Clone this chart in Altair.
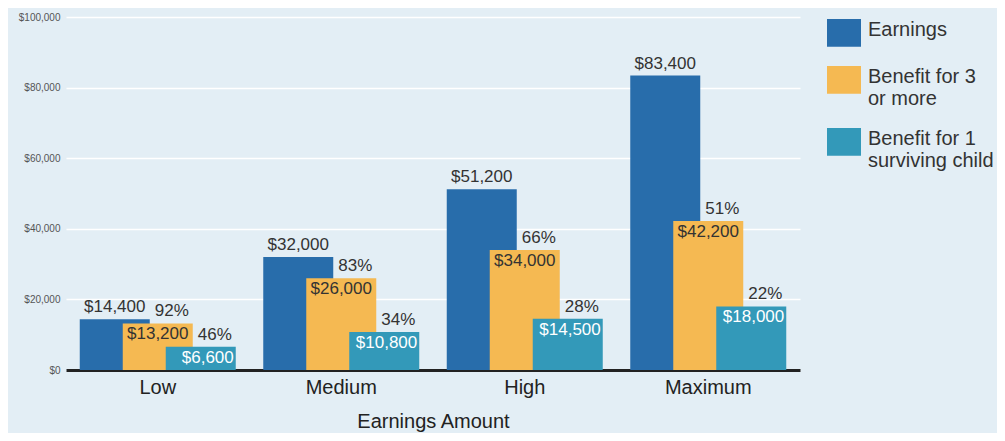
import altair as alt
import pandas as pd

categories = ["Low", "Medium", "High", "Maximum"]
earnings = [14400, 32000, 51200, 83400]
benefit3 = [13200, 26000, 34000, 42200]
benefit1 = [6600, 10800, 14500, 18000]
pct3 = ["92%", "83%", "66%", "51%"]
pct1 = ["46%", "34%", "28%", "22%"]
series = ["Earnings", "Benefit for 3|or more", "Benefit for 1|surviving child"]
colors = ["#286dab", "#f5b952", "#3399b9"]

rows = []
for i, c in enumerate(categories):
    rows.append({"cat": c, "series": series[0], "value": earnings[i], "pct": ""})
    rows.append({"cat": c, "series": series[1], "value": benefit3[i], "pct": pct3[i]})
    rows.append({"cat": c, "series": series[2], "value": benefit1[i], "pct": pct1[i]})
df = pd.DataFrame(rows)

FONT = "Liberation Sans"
offsets = [-43, 0, 43]

x_enc = alt.X(
    "cat:N",
    sort=categories,
    scale=alt.Scale(paddingInner=0.15, paddingOuter=0.075),
    axis=alt.Axis(
        title="Earnings Amount",
        labelAngle=0,
        labelFontSize=20,
        labelColor="#222",
        labelPadding=7,
        labelFont=FONT,
        ticks=False,
        domainColor="#222",
        domainWidth=3,
        titleFontSize=20,
        titleFontWeight="normal",
        titleColor="#222",
        titleFont=FONT,
        titlePadding=14,
        grid=False,
    ),
)
y_enc = alt.Y(
    "value:Q",
    scale=alt.Scale(domain=[0, 100000]),
    axis=alt.Axis(
        title=None,
        values=[0, 20000, 40000, 60000, 80000, 100000],
        format="$,.0f",
        labelFontSize=10,
        labelColor="#555",
        labelFont=FONT,
        labelPadding=6,
        ticks=False,
        domain=False,
        grid=True,
        gridColor="#ffffff",
        gridWidth=1.5,
    ),
)
color_enc = alt.Color(
    "series:N",
    sort=series,
    scale=alt.Scale(domain=series, range=colors),
    legend=alt.Legend(
        title=None,
        orient="none",
        legendX=761,
        legendY=-14,
        symbolType="M-1,-0.06H1V1.58H-1Z",
        symbolSize=1156,
        symbolStrokeWidth=0,
        symbolOpacity=1,
        labelFontSize=20,
        labelFont=FONT,
        labelColor="#333",
        labelBaseline="top",
        labelOffset=7,
        labelLimit=300,
        rowPadding=3,
        labelExpr="split(datum.label, '|')",
    ),
)

layers = []
for k, s in enumerate(series):
    base = alt.Chart(df).transform_filter(alt.datum.series == s)
    layers.append(
        base.mark_bar(width=70, xOffset=offsets[k]).encode(x=x_enc, y=y_enc, color=color_enc)
    )

# earnings labels above
layers.append(
    alt.Chart(df).transform_filter(alt.datum.series == series[0]).mark_text(
        xOffset=-43, dy=-3, baseline="bottom", fontSize=17, font=FONT, color="#333"
    ).encode(x=alt.X("cat:N", sort=categories), y="value:Q", text=alt.Text("value:Q", format="$,.0f"))
)
# benefit 3 inside labels
layers.append(
    alt.Chart(df).transform_filter(alt.datum.series == series[1]).mark_text(
        xOffset=0, dy=3, baseline="top", fontSize=17, font=FONT, color="#333"
    ).encode(x=alt.X("cat:N", sort=categories), y="value:Q", text=alt.Text("value:Q", format="$,.0f"))
)
# benefit 3 pct above
layers.append(
    alt.Chart(df).transform_filter(alt.datum.series == series[1]).mark_text(
        xOffset=14, dy=-3, baseline="bottom", fontSize=17, font=FONT, color="#333"
    ).encode(x=alt.X("cat:N", sort=categories), y="value:Q", text="pct:N")
)
# benefit 1 inside labels (white, right aligned)
layers.append(
    alt.Chart(df).transform_filter(alt.datum.series == series[2]).mark_text(
        xOffset=76, dy=3, baseline="top", align="right", fontSize=17, font=FONT, color="#ffffff"
    ).encode(x=alt.X("cat:N", sort=categories), y="value:Q", text=alt.Text("value:Q", format="$,.0f"))
)
# benefit 1 pct above
layers.append(
    alt.Chart(df).transform_filter(alt.datum.series == series[2]).mark_text(
        xOffset=57, dy=-3, baseline="bottom", fontSize=17, font=FONT, color="#333"
    ).encode(x=alt.X("cat:N", sort=categories), y="value:Q", text="pct:N")
)

chart = alt.layer(*layers).properties(
    width=734,
    height=353,
    background="#e3eef5",
    autosize=alt.AutoSizeParams(type="none"),
    padding={"left": 58, "top": 9, "right": 197, "bottom": 63},
).configure_view(stroke=None)

chart.save("out.html", embed_options={"renderer": "svg", "actions": False})
